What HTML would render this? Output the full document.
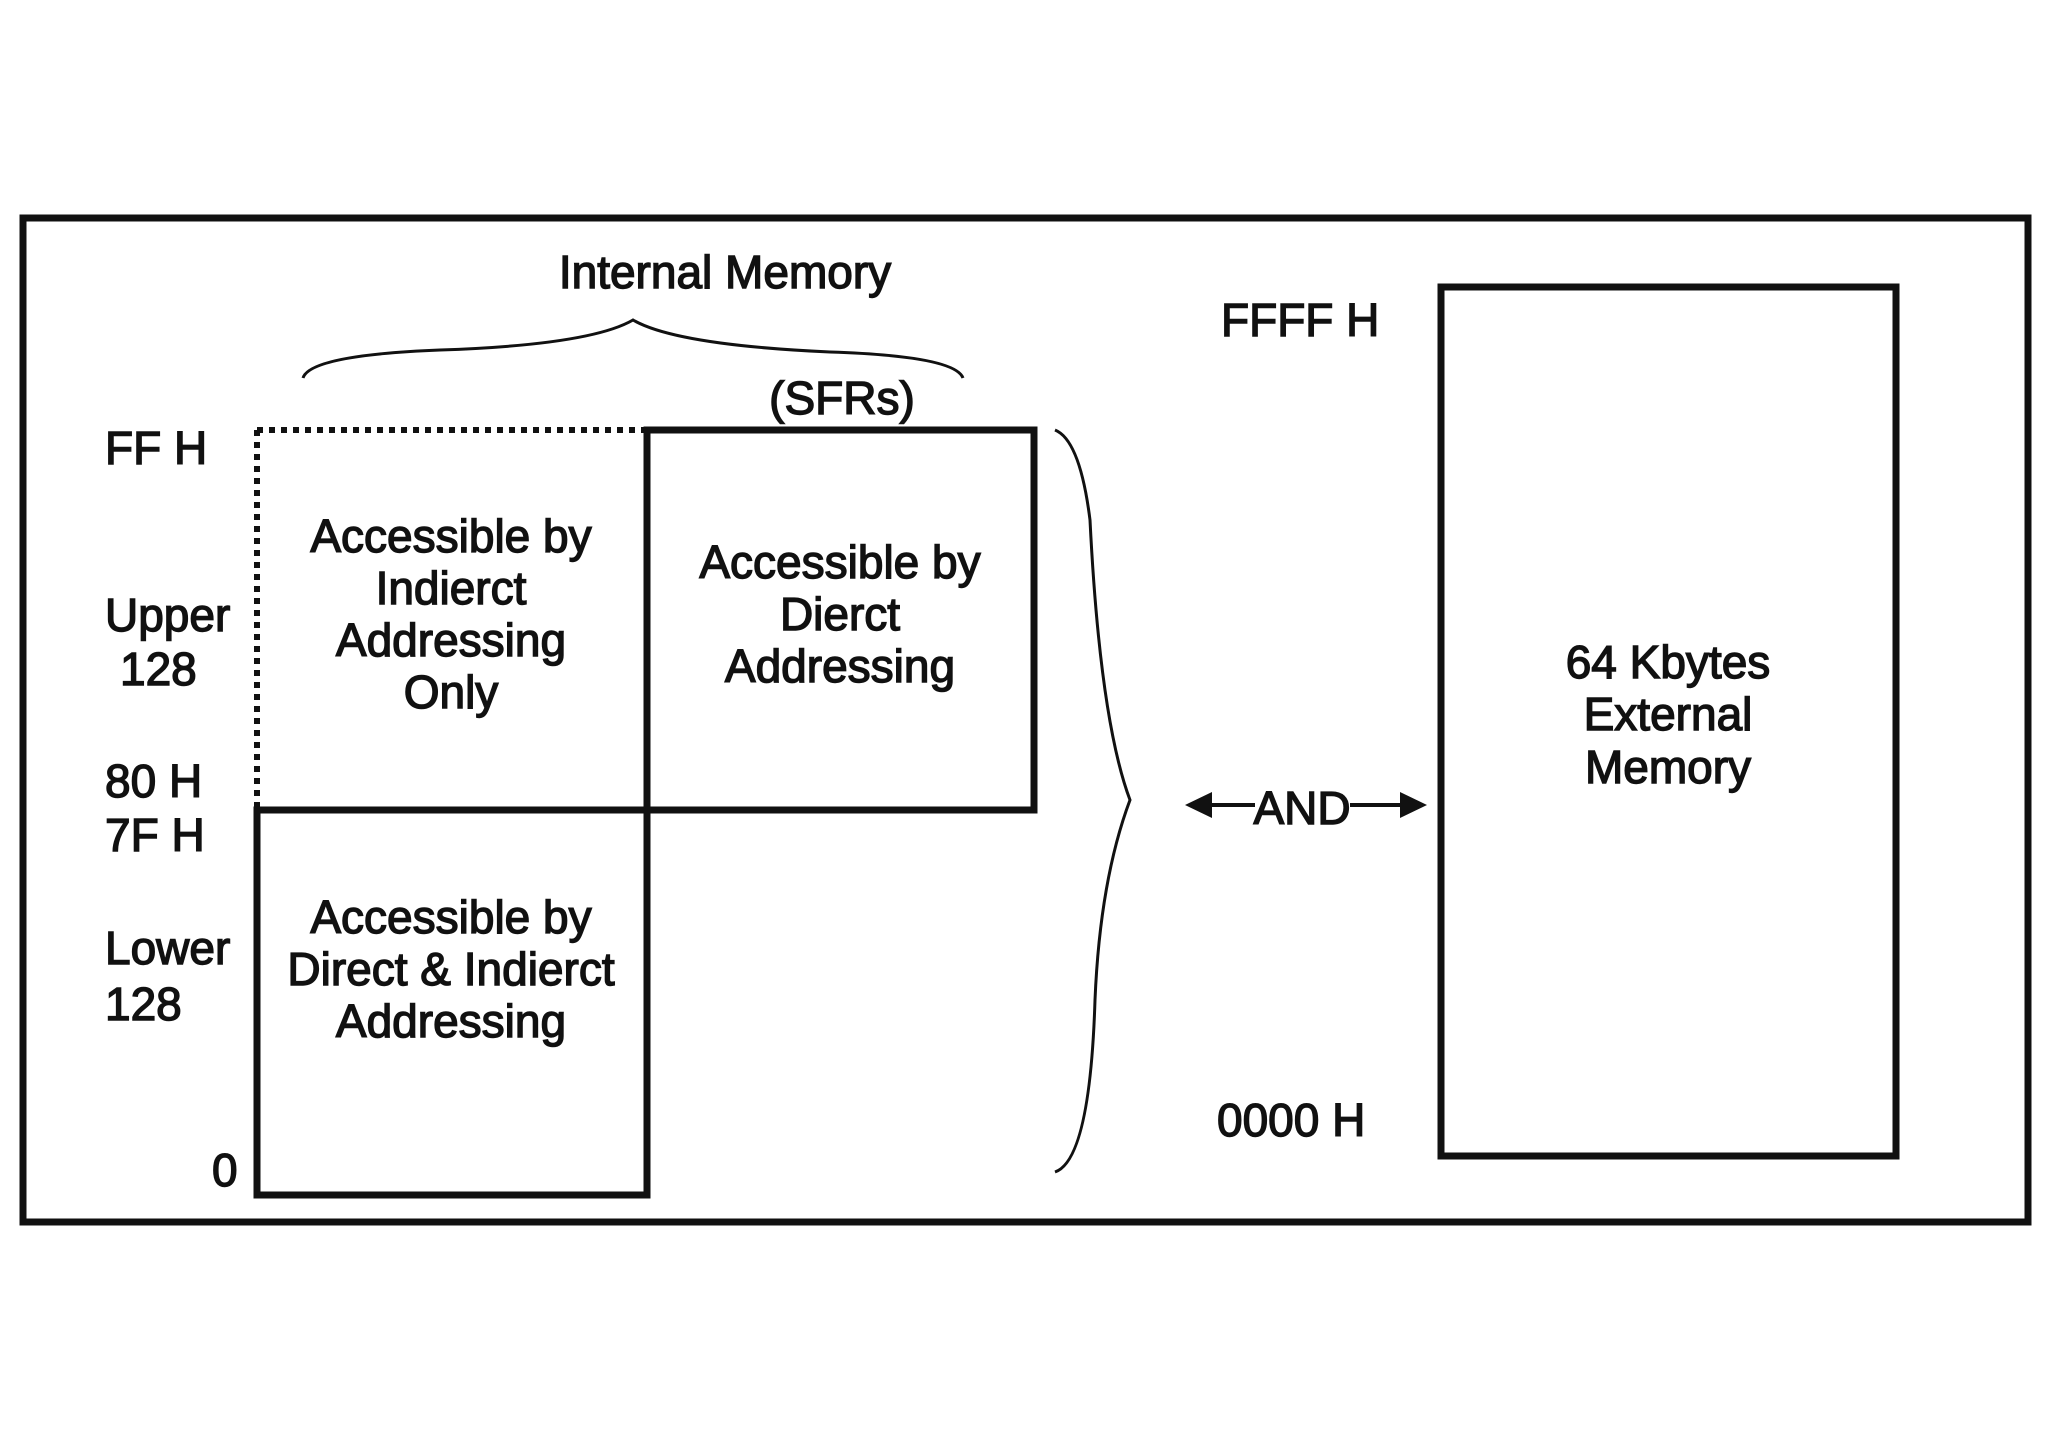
<!DOCTYPE html>
<html><head><style>body{margin:0;background:#fff}svg{display:block}text{font-family:"Liberation Sans",Arial,sans-serif;font-size:46px;fill:#111;stroke:#111;stroke-width:1.4}</style></head>
<body>
<svg width="2048" height="1449" viewBox="0 0 2048 1449" xmlns="http://www.w3.org/2000/svg">
<rect x="0" y="0" width="2048" height="1449" fill="#fff"/>
<rect x="23" y="218" width="2005" height="1004" fill="none" stroke="#111" stroke-width="7"/>
<text x="725" y="288" text-anchor="middle">Internal Memory</text>
<path d="M303 378 Q310 355 440 350 Q590 345 633 320 Q676 345 830 352 Q955 356 963 378" fill="none" stroke="#111" stroke-width="3"/>
<text x="842" y="414" text-anchor="middle">(SFRs)</text>
<path d="M257 430 L647 430 M257 430 L257 810" fill="none" stroke="#111" stroke-width="6" stroke-dasharray="6,6"/>
<rect x="647" y="430" width="387" height="380" fill="none" stroke="#111" stroke-width="7"/>
<rect x="257" y="810" width="390" height="385" fill="none" stroke="#111" stroke-width="7"/>
<text x="105" y="464">FF H</text>
<text x="105" y="631">Upper</text>
<text x="120" y="685">128</text>
<text x="105" y="797">80 H</text>
<text x="105" y="851">7F H</text>
<text x="105" y="964">Lower</text>
<text x="105" y="1020">128</text>
<text x="212" y="1186">0</text>
<g text-anchor="middle">
<text x="451" y="552">Accessible by</text>
<text x="451" y="604">Indierct</text>
<text x="451" y="656">Addressing</text>
<text x="451" y="708">Only</text>
<text x="840" y="578">Accessible by</text>
<text x="840" y="630">Dierct</text>
<text x="840" y="682">Addressing</text>
<text x="451" y="933">Accessible by</text>
<text x="451" y="985">Direct &amp; Indierct</text>
<text x="451" y="1037">Addressing</text>
<text x="1668" y="678">64 Kbytes</text>
<text x="1668" y="730">External</text>
<text x="1668" y="783">Memory</text>
</g>
<path d="M1055 430 Q1080 440 1090 520 Q1100 720 1130 800 Q1100 880 1095 1000 Q1090 1160 1055 1172" fill="none" stroke="#111" stroke-width="3"/>
<text x="1221" y="336">FFFF H</text>
<text x="1217" y="1136">0000 H</text>
<text x="1302" y="824" text-anchor="middle">AND</text>
<path d="M1195 805 L1255 805 M1350 805 L1415 805" stroke="#111" stroke-width="4"/>
<polygon points="1185,805 1212,792 1212,818" fill="#111"/>
<polygon points="1427,805 1400,792 1400,818" fill="#111"/>
<rect x="1441" y="287" width="455" height="869" fill="none" stroke="#111" stroke-width="7"/>
</svg>
</body></html>
